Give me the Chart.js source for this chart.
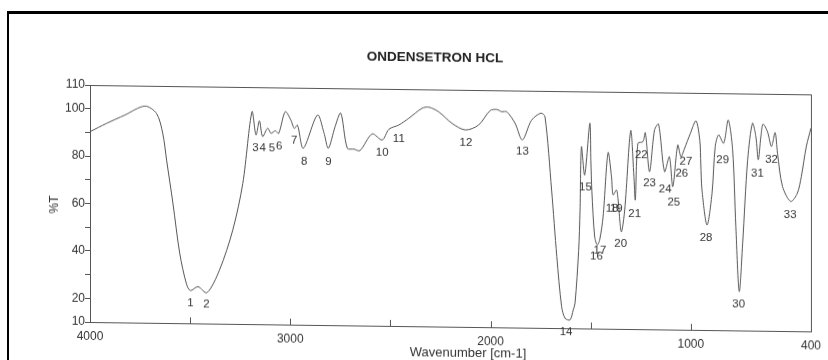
<!DOCTYPE html>
<html>
<head>
<meta charset="utf-8">
<title>ONDENSETRON HCL</title>
<script src="https://cdn.jsdelivr.net/npm/chart.js@4.4.1/dist/chart.umd.min.js"></script>
<style>
  html, body { margin: 0; padding: 0; background: #fff; }
  #wrap { position: relative; width: 828px; height: 360px; overflow: hidden; }
  #frame { position: absolute; left: 7px; top: 11px; width: 830px; height: 360px;
           border-left: 2px solid #000; border-top: 3px solid #000; }
  #ir { position: absolute; left: 0; top: 0; transform: skewY(0.745deg); transform-origin: 90px 0; }
</style>
</head>
<body>
<div id="wrap">
  <canvas id="ir" width="828" height="360"></canvas>
  <div id="frame"></div>
</div>
<script>
// spectrum trace (wavenumber in cm-1, transmittance in %T)
const wavenumber = [
  4000, 3917, 3826, 3726, 3668, 3637, 3617, 3586, 3552, 3519, 3499, 3461, 3416, 3353, 3287, 3237,
  3191, 3171, 3154, 3138, 3113, 3096, 3075, 3058, 3025, 2997, 2980, 2964, 2935, 2864, 2831, 2810,
  2776, 2748, 2715, 2682, 2652, 2591, 2541, 2507, 2458, 2408, 2342, 2308, 2259, 2192, 2126, 2060,
  2002, 1969, 1944, 1919, 1877, 1841, 1795, 1748, 1728, 1695, 1669, 1645, 1628, 1603, 1587, 1578,
  1560, 1553, 1546, 1530, 1504, 1499, 1494, 1480, 1467, 1455, 1438, 1413, 1396, 1388, 1371, 1363,
  1347, 1330, 1300, 1284, 1277, 1264, 1239, 1227, 1206, 1181, 1161, 1131, 1107, 1090, 1065, 1049,
  1032, 1002, 974, 955, 950, 944, 919, 894, 878, 861, 836, 813, 791, 775, 758, 741,
  716, 692, 675, 663, 650, 639, 617, 597, 579, 567, 542, 501, 468, 448, 423, 400
];
const transmittance = [
  90.3, 93.9, 97.5, 101.4, 98.4, 90.1, 78.4, 60.6, 39.5, 26.8, 23.8, 25.5, 23.0, 32.7, 49.6, 69.3,
  99.6, 89.8, 95.8, 89.2, 92.7, 90.6, 91.7, 90.6, 99.8, 96.3, 92.8, 94.2, 84.5, 98.6, 90.9, 84.6,
  93.8, 99.5, 84.7, 84.4, 83.8, 90.9, 88.4, 93.0, 94.8, 97.7, 102.0, 102.5, 100.6, 95.8, 93.1, 95.2,
  101.4, 101.9, 101.0, 101.0, 96.1, 89.2, 97.6, 100.6, 99.1, 68.2, 40.2, 19.1, 14.2, 13.5, 17.7, 20.6,
  42.7, 59.7, 86.7, 74.7, 96.6, 81.0, 68.0, 48.8, 45.3, 47.4, 57.2, 84.3, 74.2, 66.5, 68.6, 64.4,
  51.0, 60.2, 93.7, 74.3, 64.5, 88.4, 89.1, 92.9, 76.5, 94.1, 96.6, 76.6, 82.9, 70.3, 87.9, 82.9,
  86.3, 92.9, 98.2, 90.0, 80.0, 69.0, 54.3, 67.7, 87.4, 92.4, 88.9, 98.7, 86.1, 53.8, 26.4, 46.8,
  82.0, 97.5, 91.9, 82.1, 91.9, 97.2, 94.0, 87.8, 93.7, 85.0, 71.0, 64.7, 68.2, 75.3, 88.0, 95.7
];

// numbered peak labels, placed at (wavenumber, %T)
const peakNumber = [
  '1', '2', '3', '4', '5', '6', '7', '8', '9', '10', '11', '12', '13', '14', '15', '16', '17',
  '18', '19', '20', '21', '22', '23', '24', '25', '26', '27', '28', '29', '30', '31', '32', '33'
];
const peakWn = [
  3499, 3419, 3174, 3138, 3091, 3055, 2980, 2930, 2809, 2541, 2458, 2123, 1841, 1623, 1526, 1471, 1454,
  1393, 1372, 1350, 1280, 1247, 1206, 1128, 1085, 1045, 1024, 924, 841, 761, 667, 597, 504
];
const peakLabelT = [
  18.7, 18.2, 84.2, 84.3, 84.3, 85.0, 87.9, 78.8, 78.9, 83.0, 88.8, 87.5, 84.3, 8.3, 69.5, 40.4, 42.9,
  60.5, 60.5, 46.1, 58.6, 83.5, 71.6, 69.3, 63.7, 75.7, 80.9, 49.1, 81.6, 21.2, 76.4, 82.4, 59.0
];

const xTickValues = [4000, 3500, 3000, 2500, 2000, 1500, 1000, 400];
const xTickLabels = ['4000', '', '3000', '', '2000', '', '1000', '400'];
const yTickValues = [10, 20, 30, 40, 50, 60, 70, 80, 90, 100, 110];
const yTickLabels = ['10', '20', '', '40', '', '60', '', '80', '', '100', '110'];

const points = wavenumber.map((w, i) => ({ x: w, y: transmittance[i] }));

const decor = {
  id: 'decor',
  afterDraw(chart) {
    const { ctx, chartArea: a, scales: { x, y } } = chart;
    ctx.save();
    // plot box
    ctx.strokeStyle = '#555';
    ctx.lineWidth = 1;
    ctx.strokeRect(a.left + 0.5, a.top + 0.5, a.right - a.left, a.bottom - a.top);
    // inward tick marks on the wavenumber axis
    xTickValues.forEach(v => {
      const px = Math.round(x.getPixelForValue(v)) + 0.5;
      ctx.beginPath();
      ctx.moveTo(px, a.bottom);
      ctx.lineTo(px, a.bottom - 6);
      ctx.stroke();
    });
    // peak numbers
    ctx.fillStyle = '#333';
    ctx.font = '11.5px "Liberation Sans", Arial, sans-serif';
    ctx.textAlign = 'center';
    ctx.textBaseline = 'middle';
    peakNumber.forEach((t, i) => {
      ctx.fillText(t, x.getPixelForValue(peakWn[i]), y.getPixelForValue(peakLabelT[i]));
    });
    // titles
    ctx.fillStyle = '#222';
    ctx.font = 'bold 13.5px "Liberation Sans", Arial, sans-serif';
    ctx.fillText('ONDENSETRON HCL', 435, 53.5);
    ctx.fillStyle = '#333';
    ctx.font = '13px "Liberation Sans", Arial, sans-serif';
    ctx.fillText('Wavenumber [cm-1]', 468, 348);
    ctx.translate(55, 205);
    ctx.rotate(-Math.PI / 2);
    ctx.font = '12px "Liberation Sans", Arial, sans-serif';
    ctx.fillText('%T', 0, 0);
    ctx.restore();
  }
};

new Chart(document.getElementById('ir'), {
  type: 'line',
  data: {
    datasets: [{
      data: points,
      borderColor: '#555',
      borderWidth: 1,
      pointRadius: 0,
      tension: 0.3,
      fill: false
    }]
  },
  options: {
    responsive: false,
    animation: false,
    devicePixelRatio: 1,
    layout: { padding: { left: 0, top: 85, right: 13, bottom: 0 } },
    plugins: { legend: { display: false }, tooltip: { enabled: false }, title: { display: false } },
    scales: {
      x: {
        type: 'linear',
        reverse: true,
        min: 400,
        max: 4000,
        afterBuildTicks: s => { s.ticks = xTickValues.map(v => ({ value: v })); },
        afterFit: s => { s.height = 38; },
        ticks: {
          callback: v => xTickLabels[xTickValues.indexOf(v)],
          autoSkip: false,
          maxRotation: 0,
          padding: 7,
          color: '#333',
          font: { family: '"Liberation Sans", Arial, sans-serif', size: 12 }
        },
        grid: { drawOnChartArea: false, drawTicks: false, display: false },
        border: { display: false }
      },
      y: {
        min: 10,
        max: 110,
        afterBuildTicks: s => { s.ticks = yTickValues.map(v => ({ value: v })); },
        afterFit: s => { s.width = 90; },
        ticks: {
          callback: v => yTickLabels[yTickValues.indexOf(v)],
          autoSkip: false,
          padding: 0,
          color: '#333',
          font: { family: '"Liberation Sans", Arial, sans-serif', size: 12 }
        },
        grid: { drawOnChartArea: false, drawTicks: true, tickLength: 5, color: '#555' },
        border: { display: false }
      }
    }
  },
  plugins: [decor]
});
</script>
</body>
</html>
